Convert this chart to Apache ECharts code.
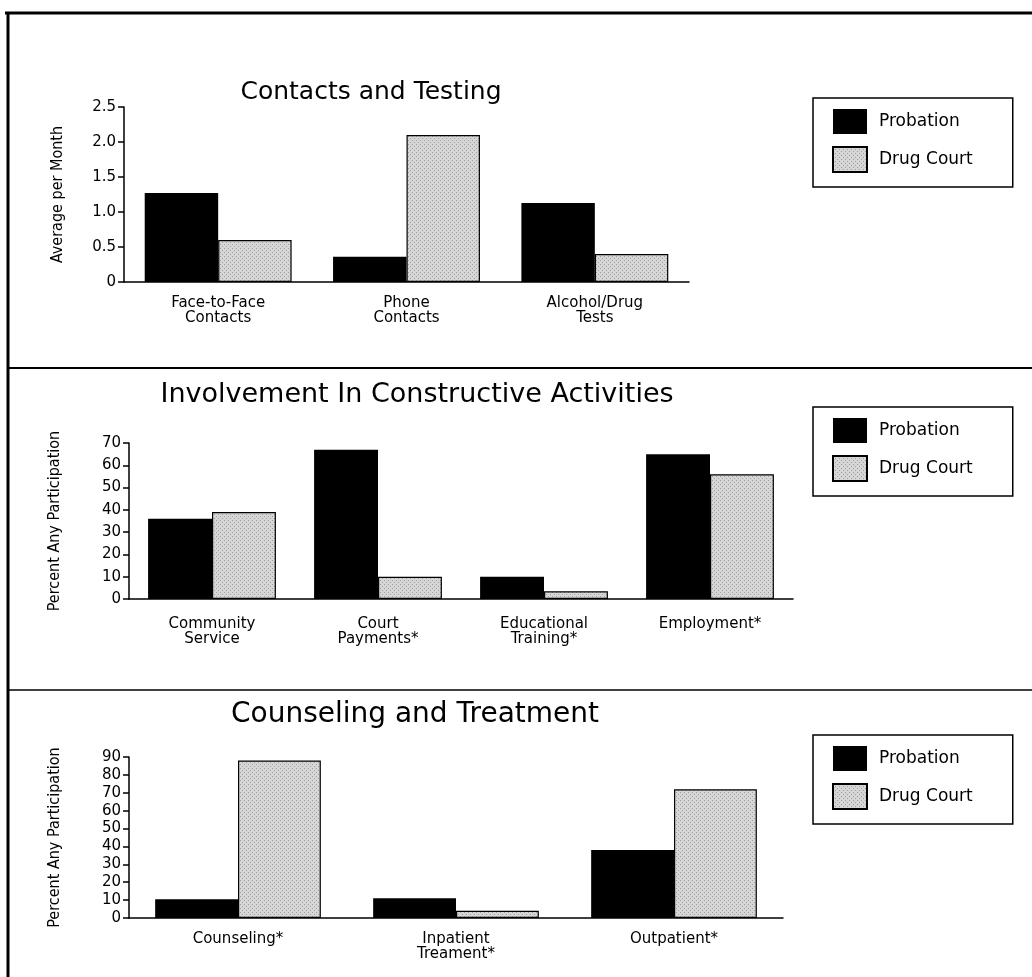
<!DOCTYPE html>
<html>
<head>
<meta charset="utf-8">
<script src="https://cdn.jsdelivr.net/npm/echarts@6/dist/echarts.min.js"></script>
<style>
  html, body { margin: 0; padding: 0; background: #fff; }
  #chart { width: 1032px; height: 977px; }
</style>
</head>
<body>
<div id="chart"></div>
<script>
// legend / series names
const seriesNames = ['Probation', 'Drug Court']

// panel 1: contacts and testing (average per month)
const contactCats = ['Face-to-Face\nContacts', 'Phone\nContacts', 'Alcohol/Drug\nTests']
const contactProbation = [1.27, 0.36, 1.13]
const contactDrugCourt = [0.6, 2.1, 0.4]

// panel 2: constructive activities (percent any participation)
const activityCats = ['Community\nService', 'Court\nPayments*', 'Educational\nTraining*', 'Employment*']
const activityProbation = [36, 67, 10, 65]
const activityDrugCourt = [39, 10, 3.5, 56]

// panel 3: counseling and treatment (percent any participation)
const treatmentCats = ['Counseling*', 'Inpatient\nTreament*', 'Outpatient*']
const treatmentProbation = [10.5, 11, 38]
const treatmentDrugCourt = [88, 4, 72]

const FONT = '"DejaVu Sans", sans-serif'
const NARROW = '"DejaVu Sans Condensed", "Liberation Sans Narrow", "DejaVu Sans", sans-serif'

// stippled grey fill for the drug court bars
function stipple() {
  const c = document.createElement('canvas')
  c.width = 4
  c.height = 4
  const ctx = c.getContext('2d')
  ctx.fillStyle = '#d6d6d6'
  ctx.fillRect(0, 0, 4, 4)
  ctx.fillStyle = '#a0a0a0'
  ctx.fillRect(0, 0, 1, 1)
  ctx.fillRect(2, 2, 1, 1)
  return { image: c, repeat: 'repeat' }
}
const dotFill = stipple()

const panels = [
  { cats: contactCats, prob: contactProbation, dc: contactDrugCourt,
    grid: { left: 124, top: 107, width: 565, height: 175 },
    max: 2.5, interval: 0.5, yName: 'Average per Month', nameGap: 58, labelMargin: 14, gap: '22%',
    title: 'Contacts and Testing', titleSize: 25, titleX: 371, titleY: 92, legendTop: 98 },
  { cats: activityCats, prob: activityProbation, dc: activityDrugCourt,
    grid: { left: 129, top: 443, width: 664, height: 156 },
    max: 70, interval: 10, yName: 'Percent Any Participation', nameGap: 66, labelMargin: 18, gap: '23%',
    title: 'Involvement In Constructive Activities', titleSize: 27, titleX: 417, titleY: 395, legendTop: 407 },
  { cats: treatmentCats, prob: treatmentProbation, dc: treatmentDrugCourt,
    grid: { left: 129, top: 757, width: 654, height: 161 },
    max: 90, interval: 10, yName: 'Percent Any Participation', nameGap: 66, labelMargin: 14, gap: '24%',
    title: 'Counseling and Treatment', titleSize: 28, titleX: 415, titleY: 715, legendTop: 735 }
]

const chart = echarts.init(document.getElementById('chart'))

const grid = []
const xAxis = []
const yAxis = []
const series = []
const legend = []
const graphic = []

panels.forEach((p, i) => {
  grid.push(p.grid)
  xAxis.push({
    type: 'category',
    gridIndex: i,
    data: p.cats,
    axisLine: { lineStyle: { color: '#000', width: 1.5 } },
    axisTick: { show: false },
    axisLabel: { color: '#000', fontFamily: FONT, fontSize: 15, lineHeight: 15, margin: p.labelMargin }
  })
  yAxis.push({
    type: 'value',
    gridIndex: i,
    min: 0,
    max: p.max,
    interval: p.interval,
    name: p.yName,
    nameLocation: 'middle',
    nameGap: p.nameGap,
    nameTextStyle: { color: '#000', fontFamily: NARROW, fontSize: 16 },
    splitLine: { show: false },
    axisLine: { show: true, lineStyle: { color: '#000', width: 1.5 } },
    axisTick: { show: true, length: 6, lineStyle: { color: '#000', width: 1.5 } },
    axisLabel: {
      color: '#000', fontFamily: FONT, fontSize: 15, margin: 8,
      formatter: v => (p.interval < 1 && v !== 0) ? v.toFixed(1) : String(v)
    }
  })
  series.push({
    type: 'bar', name: seriesNames[0], xAxisIndex: i, yAxisIndex: i,
    data: p.prob, barGap: '0%', barCategoryGap: p.gap,
    itemStyle: { color: '#000' }
  })
  series.push({
    type: 'bar', name: seriesNames[1], xAxisIndex: i, yAxisIndex: i,
    data: p.dc, barGap: '0%', barCategoryGap: p.gap,
    itemStyle: { color: dotFill, borderColor: '#000', borderWidth: 1.2 }
  })
  legend.push({
    data: seriesNames,
    orient: 'vertical',
    left: 813,
    top: p.legendTop,
    itemWidth: 34,
    itemHeight: 25,
    itemGap: 12,
    icon: 'rect',
    padding: [11, 40, 14, 19],
    borderColor: '#000',
    borderWidth: 1.5,
    selectedMode: false,
    textStyle: { color: '#000', fontFamily: FONT, fontSize: 17, padding: [0, 0, 0, 7] }
  })
  graphic.push({
    type: 'text',
    x: p.titleX,
    y: p.titleY,
    style: {
      text: p.title, fill: '#000', font: p.titleSize + 'px ' + FONT,
      textAlign: 'center', textVerticalAlign: 'middle'
    }
  })
})

// frame and panel dividers
const frame = [
  [5, 13, 1032, 13, 3],
  [8, 12, 8, 977, 3],
  [8, 368, 1032, 368, 2],
  [8, 690, 1032, 690, 1.5]
]
frame.forEach(f => {
  graphic.push({
    type: 'line',
    shape: { x1: f[0], y1: f[1], x2: f[2], y2: f[3] },
    style: { stroke: '#000', lineWidth: f[4] }
  })
})

chart.setOption({
  animation: false,
  backgroundColor: '#fff',
  grid,
  xAxis,
  yAxis,
  series,
  legend,
  graphic
})
</script>
</body>
</html>
